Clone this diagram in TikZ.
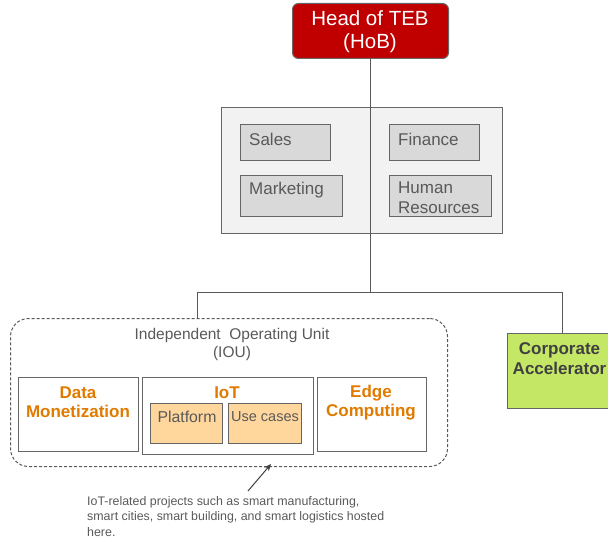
\documentclass[tikz,border=0pt]{standalone}
\usepackage{fontspec}
\setmainfont{Liberation Sans}
\usetikzlibrary{arrows.meta}
\definecolor{headred}{HTML}{C00000}
\definecolor{linegray}{HTML}{595959}
\definecolor{boxgray}{HTML}{666666}
\definecolor{panel}{HTML}{F2F2F2}
\definecolor{dept}{HTML}{D9D9D9}
\definecolor{txtgray}{HTML}{595959}
\definecolor{orangetxt}{HTML}{E07B00}
\definecolor{peach}{HTML}{FFD69C}
\definecolor{lime}{HTML}{C4E866}
\definecolor{darktxt}{HTML}{404040}
\tikzset{
  conn/.style={draw=linegray, line width=1pt},
  rbox/.style={draw=boxgray, line width=1pt, rectangle, inner sep=0pt, anchor=north west},
  depttxt/.style={text=txtgray, font=\fontsize{17}{19.5}\selectfont, inner sep=0pt, align=left},
  unittxt/.style={text=orangetxt, font=\bfseries\fontsize{17}{19}\selectfont, inner sep=0pt, align=center},
}
\begin{document}
\begin{tikzpicture}[x=1pt,y=-1pt]
\useasboundingbox (0,0) rectangle (608,543);
\clip (0,0) rectangle (608,543);
% head
\node[rbox, fill=headred, rounded corners=6pt, minimum width=156pt, minimum height=55pt] (head) at (292,3) {};
\node[text=white, font=\fontsize{20.5}{23}\selectfont, align=center, inner sep=0pt] (headtxt) at (370,32) {Head of TEB\\(HoB)};
% panel
\node[rbox, fill=panel, minimum width=281pt, minimum height=126pt] (panel) at (221,107) {};
\node[rbox, fill=dept, minimum width=90pt, minimum height=36pt] (sales) at (240,124) {};
\node[rbox, fill=dept, minimum width=90pt, minimum height=36pt] (fin) at (389,124) {};
\node[rbox, fill=dept, minimum width=102pt, minimum height=41pt] (mkt) at (240,175) {};
\node[rbox, fill=dept, minimum width=102pt, minimum height=41pt] (hr) at (389,175) {};
\node[depttxt, anchor=west] (salestxt) at (249,139) {Sales};
\node[depttxt, anchor=west] (fintxt) at (398,139) {Finance};
\node[depttxt, anchor=west] (mkttxt) at (249,190) {Marketing};
\node[depttxt, anchor=north west] (hrtxt) at (398,182) {Human\\Resources};
% connectors
\coordinate (jtop) at (370,292);
\coordinate (jl) at (197,292);
\coordinate (jr) at (562,292);
\draw[conn] (head.south -| jtop) -- (jtop);
\draw[conn] (jl) -- (jr);
% IOU dashed
\node[rbox, draw=linegray, dashed, dash pattern=on 3pt off 2pt, rounded corners=18pt, minimum width=437pt, minimum height=148pt] (iou) at (10,318) {};
\draw[conn] (jl) -- (jl |- iou.north);
\node[text=txtgray, font=\fontsize{15.5}{18}\selectfont, align=center, inner sep=0pt] (ioutxt) at (232,344) {Independent\ \ Operating Unit\\(IOU)};
\node[rbox, fill=white, minimum width=120pt, minimum height=74pt] (dm) at (18,377) {};
\node[rbox, fill=white, minimum width=171pt, minimum height=77pt] (iot) at (142,377) {};
\node[rbox, fill=white, minimum width=109pt, minimum height=74pt] (edge) at (317,377) {};
\node[unittxt] (dmtxt) at (78,402.5) {Data\\Monetization};
\node[unittxt] (iottxt) at (227,393) {IoT};
\node[unittxt] (edgetxt) at (371,402.5) {Edge\\Computing};
\node[rbox, fill=peach, minimum width=72pt, minimum height=40pt] (plat) at (150,403) {};
\node[rbox, fill=peach, minimum width=73pt, minimum height=40pt] (uc) at (228,403) {};
\node[text=txtgray, font=\fontsize{15.8}{18}\selectfont, inner sep=0pt] (plattxt) at (187,417) {Platform};
\node[text=txtgray, font=\fontsize{14.5}{17}\selectfont, inner sep=0pt] (uctxt) at (265,417) {Use cases};
% corporate accelerator
\node[rbox, fill=lime, minimum width=120pt, minimum height=75pt] (ca) at (507,333) {};
\draw[conn] (jr) -- (jr |- ca.north);
\node[text=darktxt, font=\bfseries\fontsize{17}{20}\selectfont, align=center, inner sep=0pt] (catxt) at (559.5,358.5) {Corporate\\Accelerator};
% annotation
\coordinate (atip) at (271,464);
\node[text=txtgray, font=\fontsize{12.4}{15.5}\selectfont, align=left, inner sep=0pt, anchor=north west] (note) at (87,496) {IoT-related projects such as smart manufacturing,\\smart cities, smart building, and smart logistics hosted\\here.};
\coordinate (atail) at (248,491);
\draw[draw=darktxt, line width=1pt, -{Stealth[length=7pt,width=6pt]}] (atail) -- (atip);
\end{tikzpicture}
\end{document}
